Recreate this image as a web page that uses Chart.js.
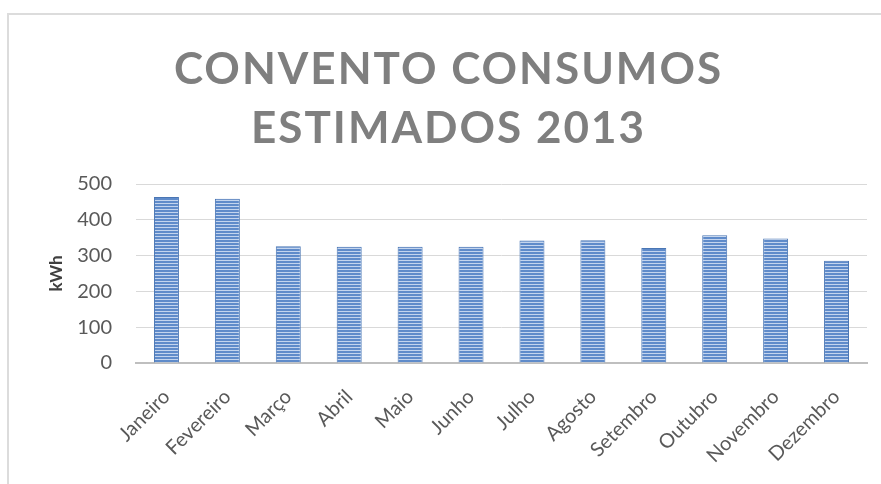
<!DOCTYPE html>
<html>
<head>
<meta charset="utf-8">
<script src="https://cdn.jsdelivr.net/npm/chart.js@4"></script>
<style>
    html, body { margin: 0; padding: 0; background: #ffffff; }
    #wrap { position: relative; width: 881px; height: 484px; overflow: hidden; }
    #frame { position: absolute; left: 7px; top: 13px; width: 900px; height: 500px;
             border-top: 2px solid #dcdcdc; border-left: 2px solid #dcdcdc; }
    #chart { position: absolute; left: 0; top: 0; }
</style>
</head>
<body>
<div id="wrap">
    <div id="frame"></div>
    <canvas id="chart" width="881" height="484"></canvas>
</div>
<script>
const meses = ["Janeiro", "Fevereiro", "Março", "Abril", "Maio", "Junho", "Julho", "Agosto", "Setembro", "Outubro", "Novembro", "Dezembro"]
const consumos = [464, 459, 326, 325, 325, 325, 342, 343, 321, 357, 348, 286]
const titulo = ["CONVENTO CONSUMOS", "ESTIMADOS 2013"]
const eixoY = { min: 0, max: 500, passo: 100, titulo: "kWh" }

const container = document.getElementById("chart")

// riscas horizontais das barras
const padrao = (() => {
    const c = document.createElement("canvas")
    c.width = 4
    c.height = 3
    const g = c.getContext("2d")
    g.fillStyle = "#5f8bca"
    g.fillRect(0, 0, 4, 3)
    g.fillStyle = "#c3d4ee"
    g.fillRect(0, 2, 4, 1)
    return g.createPattern(c, "repeat")
})()

const data = {
    labels : meses,
    datasets : [
        {
            label : "Consumo",
            data : consumos,
            backgroundColor : padrao,
            borderColor : "#4a76b4",
            borderWidth : 1,
            categoryPercentage : 1,
            barPercentage : 0.41
        }
    ]
}

const config = {
    type : "bar",
    data : data,
    options : {
        responsive : false,
        animation : false,
        layout : {
            padding : { left : 44, right : 14, top : 41, bottom : 0 }
        },
        scales : {
            x : {
                grid : { display : false, drawTicks : false },
                border : { color : "#bfbfbf", width : 2 },
                ticks : {
                    color : "#595959",
                    font : { family : "Lato", size : 20 },
                    minRotation : 45,
                    maxRotation : 45,
                    padding : 22
                },
                // os rótulos inclinados não empurram a área do gráfico
                afterFit : (scale) => {
                    scale.paddingLeft = 0
                    scale.paddingRight = 0
                    scale.height = 121
                }
            },
            y : {
                min : eixoY.min,
                max : eixoY.max,
                grid : { color : "#d9d9d9", drawTicks : false },
                border : { display : false },
                ticks : {
                    stepSize : eixoY.passo,
                    color : "#595959",
                    font : { family : "Lato", size : 20 },
                    padding : 24
                },
                title : {
                    display : true,
                    text : eixoY.titulo,
                    color : "#404040",
                    font : { family : "Lato", size : 17, weight : "bold" },
                    padding : { top : 2, bottom : 10 }
                },
                afterFit : (scale) => {
                    scale.width = 92
                }
            }
        },
        plugins : {
            legend : { display : false },
            tooltip : { enabled : false },
            title : {
                display : true,
                text : titulo,
                color : "#7f7f7f",
                font : { family : "Lato", size : 44, weight : "bold", lineHeight : 1.33 },
                padding : { top : 0, bottom : 26 }
            }
        }
    }
}

const myChart = new Chart(container, config)

// espaçamento entre letras do título
const desenhaTitulo = myChart.titleBlock.draw.bind(myChart.titleBlock)
myChart.titleBlock.draw = function () {
    const ctx = myChart.ctx
    ctx.save()
    ctx.letterSpacing = "2px"
    ctx.translate(-7, 0)
    desenhaTitulo()
    ctx.restore()
}
myChart.draw()
</script>
</body>
</html>
